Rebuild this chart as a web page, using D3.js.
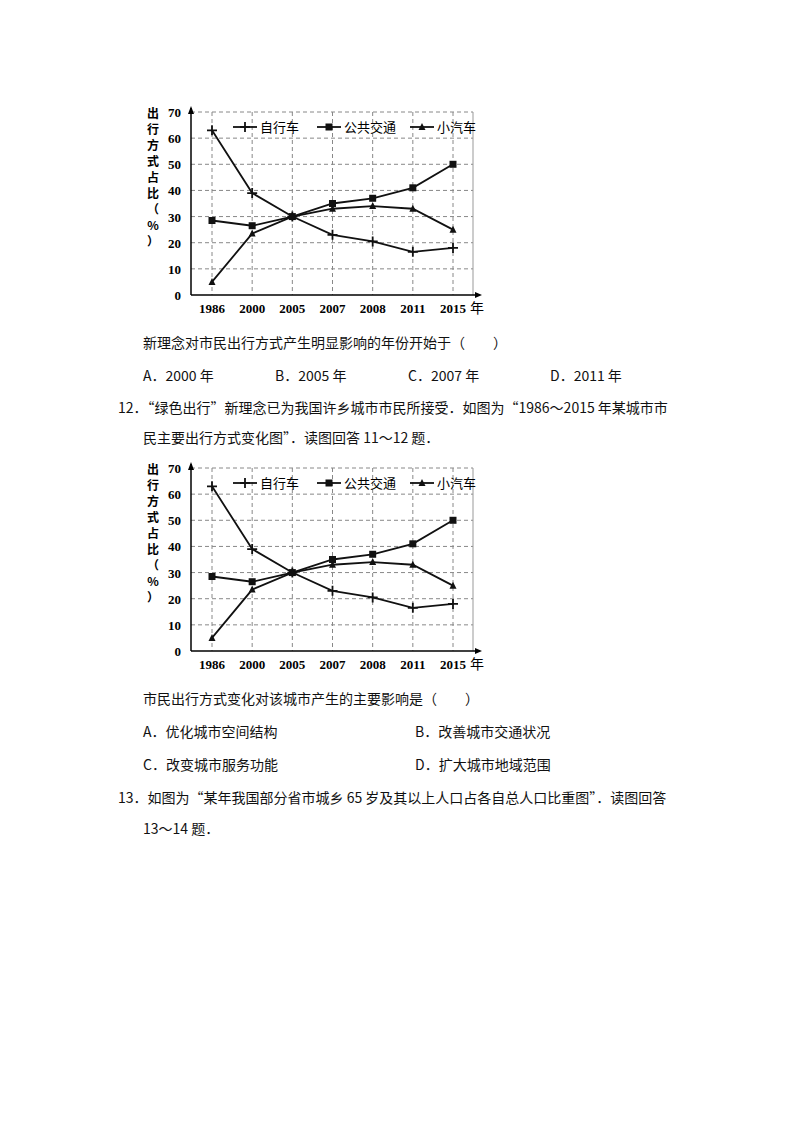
<!DOCTYPE html>
<html><head><meta charset="utf-8">
<script src="https://cdn.jsdelivr.net/npm/d3@7"></script>
<style>body{margin:0;background:#fff}</style>
</head><body>
<svg id="page" width="800" height="1132"></svg>
<script>
const years = ["1986","2000","2005","2007","2008","2011","2015"];
const bike = [63, 39, 30, 23, 20.5, 16.5, 18];
const bus = [28.5, 26.5, 30, 35, 37, 41, 50];
const car = [5, 23.5, 30, 33, 34, 33, 25];
const yTicks = [0,10,20,30,40,50,60,70];
const seriesNames = ["自行车","公共交通","小汽车"];

const svg = d3.select("#page");
const font = "'Noto Sans CJK SC', 'Liberation Serif', serif";

function drawChart(top) {
  const g = svg.append("g").attr("transform", `translate(0,${top})`);
  const x = d3.scalePoint().domain(years).range([212, 453]);
  const y = d3.scaleLinear().domain([0, 70]).range([295, 112]);
  const left = 191, right = 473;
  // grid
  g.selectAll(".hg").data(yTicks.slice(1)).join("line")
    .attr("x1", left).attr("x2", right).attr("y1", d => y(d)).attr("y2", d => y(d))
    .attr("stroke", "#888").attr("stroke-dasharray", "4,3");
  g.selectAll(".vg").data(years).join("line")
    .attr("x1", d => x(d)).attr("x2", d => x(d)).attr("y1", y(70)).attr("y2", y(0))
    .attr("stroke", "#888").attr("stroke-dasharray", "4,3");
  g.append("line").attr("x1", right).attr("x2", right).attr("y1", y(70)).attr("y2", y(0)).attr("stroke", "#999");
  // axes
  g.append("line").attr("x1", left).attr("x2", left).attr("y1", y(0)).attr("y2", y(70) - 4).attr("stroke", "#000").attr("stroke-width", 1.5);
  g.append("path").attr("d", `M${left-3},${y(70)+2}L${left},${y(70)-6}L${left+3},${y(70)+2}Z`);
  g.append("line").attr("x1", left).attr("x2", right + 6).attr("y1", y(0)).attr("y2", y(0)).attr("stroke", "#000").attr("stroke-width", 1.5);
  g.append("path").attr("d", `M${right+2},${y(0)-3}L${right+9},${y(0)}L${right+2},${y(0)+3}Z`);
  g.selectAll(".yt").data(yTicks).join("text")
    .attr("x", 181).attr("y", d => y(d) + 5).attr("text-anchor", "end")
    .attr("font-family", "'Liberation Serif', serif").attr("font-weight", "bold").attr("font-size", 13).text(d => d);
  g.selectAll(".xt").data(years).join("text")
    .attr("x", d => x(d)).attr("y", 313).attr("text-anchor", "middle")
    .attr("font-family", "'Liberation Serif', serif").attr("font-weight", "bold").attr("font-size", 13).text(d => d);
  g.append("text").attr("x", 470).attr("y", 313).attr("font-family", font).attr("font-size", 14).text("年");
  // y title vertical
  const ytitle = ["出","行","方","式","占","比","（","%","）"];
  g.selectAll(".ytl").data(ytitle).join("text")
    .attr("x", 153).attr("y", (d, i) => 118 + i * 16).attr("text-anchor", "middle")
    .attr("font-family", font).attr("font-weight", "bold").attr("font-size", 12).text(d => d);
  const line = d3.line().x((d, i) => x(years[i])).y(d => y(d));
  [bike, bus, car].forEach((s, k) => {
    g.append("path").attr("d", line(s)).attr("fill", "none").attr("stroke", "#111").attr("stroke-width", 1.8);
    s.forEach((v, i) => marker(g, k, x(years[i]), y(v)));
  });
  // legend
  const lx = [233, 317, 410];
  seriesNames.forEach((n, k) => {
    g.append("line").attr("x1", lx[k]).attr("x2", lx[k] + 24).attr("y1", 127).attr("y2", 127).attr("stroke", "#111").attr("stroke-width", 1.8);
    marker(g, k, lx[k] + 12, 127);
    g.append("text").attr("x", lx[k] + 27).attr("y", 132).attr("font-family", font).attr("font-size", 13).text(n);
  });
}
function marker(g, k, cx, cy) {
  if (k === 0) {
    g.append("path").attr("d", `M${cx-5},${cy}H${cx+5}M${cx},${cy-5}V${cy+5}`).attr("stroke", "#111").attr("stroke-width", 1.8);
  } else if (k === 1) {
    g.append("rect").attr("x", cx - 3.5).attr("y", cy - 3.5).attr("width", 7).attr("height", 7).attr("fill", "#111");
  } else {
    g.append("path").attr("d", `M${cx-3.5},${cy+3}L${cx},${cy-4}L${cx+3.5},${cy+3}Z`).attr("fill", "#111");
  }
}
drawChart(0);
drawChart(356);

const texts = [
  [143, 348, "新理念对市民出行方式产生明显影响的年份开始于（　　）"],
  [143, 381, "A．2000 年"], [275, 381, "B．2005 年"], [408, 381, "C．2007 年"], [550, 381, "D．2011 年"],
  [118, 413, "12．“绿色出行”新理念已为我国许乡城市市民所接受．如图为“1986～2015 年某城市市"],
  [143, 443, "民主要出行方式变化图”．读图回答 11～12 题．"],
  [143, 704, "市民出行方式变化对该城市产生的主要影响是（　　）"],
  [143, 737, "A．优化城市空间结构"], [415, 737, "B．改善城市交通状况"],
  [143, 770, "C．改变城市服务功能"], [415, 770, "D．扩大城市地域范围"],
  [118, 803, "13．如图为“某年我国部分省市城乡 65 岁及其以上人口占各自总人口比重图”．读图回答"],
  [143, 834, "13～14 题．"]
];
svg.selectAll(".tx").data(texts).join("text")
  .attr("x", d => d[0]).attr("y", d => d[1])
  .attr("font-family", "'Noto Sans CJK SC', sans-serif").attr("font-size", 14).attr("fill", "#111")
  .text(d => d[2]);
</script>
</body></html>
